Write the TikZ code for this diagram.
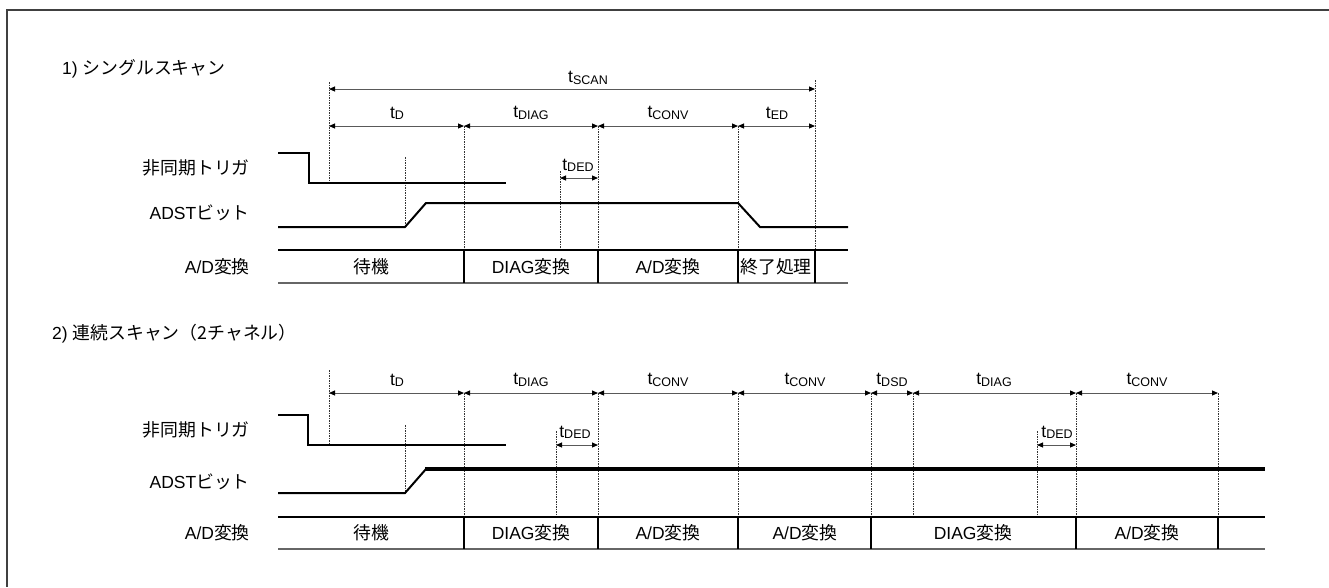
\documentclass[tikz,border=0pt]{standalone}
\usepackage{fontspec}
\setmainfont{Liberation Sans}
\newfontfamily\jpfont{Noto Sans CJK JP}[Scale=1.02]
\newcommand\J[1]{{\jpfont #1}}
\newcommand\tsub[1]{t\raisebox{-1.3pt}{\fontsize{12.5}{12.5}\selectfont #1}}
\usetikzlibrary{arrows.meta}
\begin{document}
\begin{tikzpicture}[x=1pt,y=-1pt,
  lbl/.style={font=\fontsize{17.5}{20}\selectfont, inner sep=0pt},
  rowlbl/.style={lbl, anchor=east},
  ttl/.style={lbl, anchor=west},
  dim/.style={{Triangle[length=6pt,width=5pt,color=black]}-{Triangle[length=6pt,width=5pt,color=black]}, line width=1pt, draw=black!65},
  guide/.style={dash pattern=on 1.5pt off 1pt, line width=0.7pt, draw=black!80},
  trig/.style={line width=1.2pt, line join=miter},
  adst/.style={line width=2pt, line join=miter},
  adsthi/.style={line width=3.2pt},
  rowtop/.style={line width=1.2pt},
  rowbot/.style={line width=2pt, draw=black!60},
  rowdiv/.style={line width=1.2pt}
]
\useasboundingbox (0,0) rectangle (1329,587);
% frame
\draw[line width=1.5pt, draw=black!75] (1329,10) -- (7,10) -- (7,587);

% ================= Section 1 =================
\node[ttl] (t1) at (62,69) {1) \J{シングルスキャン}};
\node[rowlbl] (r1a) at (250,168) {\J{非同期トリガ}};
\node[rowlbl] (r1b) at (250,213) {ADST\J{ビット}};
\node[rowlbl] (r1c) at (250,267) {A/D\J{変換}};

% guides
\draw[guide] (329,82) -- (329,183);
\draw[guide] (405,157) -- (405,227);
\draw[guide] (464,126) -- (464,250);
\draw[guide] (560,171) -- (560,250);
\draw[guide] (598,126) -- (598,250);
\draw[guide] (738,126) -- (738,250);
\draw[guide] (815,80) -- (815,250);

% dimension arrows
\coordinate (a0) at (329,89); \coordinate (a1) at (815,89);
\draw[dim] (a0) -- (a1);
\node[lbl] (lscan) at (588,78) {\tsub{SCAN}};
\coordinate (b0) at (329,126); \coordinate (b1) at (464,126);
\coordinate (b2) at (598,126); \coordinate (b3) at (738,126);
\coordinate (b4) at (815,126);
\draw[dim] (b0) -- (b1); \draw[dim] (b1) -- (b2);
\draw[dim] (b2) -- (b3); \draw[dim] (b3) -- (b4);
\node[lbl] (ld) at (397,113) {\tsub{D}};
\node[lbl] (ldiag) at (531,113) {\tsub{DIAG}};
\node[lbl] (lconv) at (668,113) {\tsub{CONV}};
\node[lbl] (led) at (777,113) {\tsub{ED}};
\coordinate (c0) at (560,178); \coordinate (c1) at (598,178);
\draw[dim] (c0) -- (c1);
\node[lbl] (lded) at (578,165) {\tsub{DED}};

% signals
\draw[trig] (278,153) -- (309,153) -- (309,183) -- (506,183);
\draw[adst] (278,227) -- (405,227) -- (426,203) -- (738,203) -- (760,227) -- (848,227);

% A/D row
\draw[rowtop] (278,250) -- (848,250);
\draw[rowbot] (278,283) -- (848,283);
\foreach \x in {464,598,738,815} \draw[rowdiv] (\x,250) -- (\x,283);
\node[lbl] (s1p1) at (371,267) {\J{待機}};
\node[lbl] (s1p2) at (531,267) {DIAG\J{変換}};
\node[lbl] (s1p3) at (668,267) {A/D\J{変換}};
\node[lbl] (s1p4) at (776,267) {\J{終了処理}};

% ================= Section 2 =================
\node[ttl] (t2) at (52,334) {2) \J{連続スキャン（2チャネル）}};
\node[rowlbl] (r2a) at (250,430) {\J{非同期トリガ}};
\node[rowlbl] (r2b) at (250,482) {ADST\J{ビット}};
\node[rowlbl] (r2c) at (250,533) {A/D\J{変換}};

% guides
\draw[guide] (329,370) -- (329,445);
\draw[guide] (405,425) -- (405,493);
\draw[guide] (556,431) -- (556,517);
\draw[guide] (1037,431) -- (1037,517);
\foreach \x in {464,598,738,871,913,1076,1218} \draw[guide] (\x,393) -- (\x,517);

% dimension arrows
\coordinate (d0) at (329,393); \coordinate (d1) at (464,393);
\coordinate (d2) at (598,393); \coordinate (d3) at (738,393);
\coordinate (d4) at (871,393); \coordinate (d5) at (913,393);
\coordinate (d6) at (1076,393); \coordinate (d7) at (1218,393);
\draw[dim] (d0) -- (d1); \draw[dim] (d1) -- (d2);
\draw[dim] (d2) -- (d3); \draw[dim] (d3) -- (d4);
\draw[dim] (d4) -- (d5); \draw[dim] (d5) -- (d6);
\draw[dim] (d6) -- (d7);
\node[lbl] (m1) at (397,380) {\tsub{D}};
\node[lbl] (m2) at (531,380) {\tsub{DIAG}};
\node[lbl] (m3) at (668,380) {\tsub{CONV}};
\node[lbl] (m4) at (805,380) {\tsub{CONV}};
\node[lbl] (m5) at (892,380) {\tsub{DSD}};
\node[lbl] (m6) at (994,380) {\tsub{DIAG}};
\node[lbl] (m7) at (1147,380) {\tsub{CONV}};
\coordinate (e0) at (556,445); \coordinate (e1) at (598,445);
\draw[dim] (e0) -- (e1);
\node[lbl] (n1) at (575,432) {\tsub{DED}};
\coordinate (f0) at (1037,445); \coordinate (f1) at (1076,445);
\draw[dim] (f0) -- (f1);
\node[lbl] (n2) at (1057,432) {\tsub{DED}};

% signals
\draw[trig] (278,415) -- (308,415) -- (308,445) -- (506,445);
\draw[adst] (278,493) -- (405,493) -- (426,469);
\draw[adsthi] (425,469) -- (1265,469);

% A/D row
\draw[rowtop] (278,517) -- (1265,517);
\draw[rowbot] (278,549) -- (1265,549);
\foreach \x in {464,598,738,871,1076,1218} \draw[rowdiv] (\x,517) -- (\x,549);
\node[lbl] (s2p1) at (371,533) {\J{待機}};
\node[lbl] (s2p2) at (531,533) {DIAG\J{変換}};
\node[lbl] (s2p3) at (668,533) {A/D\J{変換}};
\node[lbl] (s2p4) at (805,533) {A/D\J{変換}};
\node[lbl] (s2p5) at (973,533) {DIAG\J{変換}};
\node[lbl] (s2p6) at (1147,533) {A/D\J{変換}};
\end{tikzpicture}
\end{document}
